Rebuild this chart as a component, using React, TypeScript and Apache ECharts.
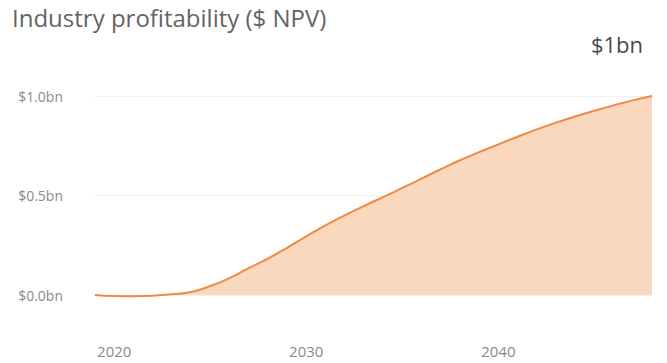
import React, { useEffect, useRef } from "react";
import * as echarts from "echarts";

// Years on the horizontal axis
const years: string[] = [
  "2019", "2020", "2021", "2022", "2023", "2024", "2025", "2026", "2027", "2028",
  "2029", "2030", "2031", "2032", "2033", "2034", "2035", "2036", "2037", "2038",
  "2039", "2040", "2041", "2042", "2043", "2044", "2045", "2046", "2047", "2048",
];

// Cumulative industry profitability, $bn NPV
const profitability: number[] = [
  0.0, -0.005, -0.006, -0.004, 0.004, 0.015, 0.045, 0.085, 0.135, 0.183,
  0.237, 0.295, 0.35, 0.4, 0.447, 0.492, 0.538, 0.585, 0.632, 0.677,
  0.718, 0.757, 0.795, 0.832, 0.866, 0.897, 0.926, 0.953, 0.978, 1.0,
];

const yearLabels: string[] = ["2020", "2030", "2040"];
const headline = "$1bn";
const chartTitle = "Industry profitability ($ NPV)";

export default function App() {
  const ref = useRef<HTMLDivElement>(null);

  useEffect(() => {
    if (!ref.current) return;
    const chart = echarts.init(ref.current, undefined, { renderer: "svg" });
    chart.setOption({
      animation: false,
      backgroundColor: "#ffffff",
      textStyle: { fontFamily: "Open Sans" },
      title: [
        {
          text: chartTitle,
          left: 12,
          top: 5,
          padding: 0,
          textStyle: {
            fontFamily: "Open Sans",
            fontSize: 24,
            fontWeight: "normal",
            color: "#646464",
          },
        },
        {
          text: headline,
          right: 24,
          top: 33,
          padding: 0,
          textStyle: {
            fontFamily: "Open Sans",
            fontSize: 22,
            fontWeight: "normal",
            color: "#4a4a4a",
          },
        },
      ],
      grid: { left: 95, right: 15, top: 96, bottom: 68 },
      xAxis: {
        type: "category",
        data: years,
        boundaryGap: false,
        axisLine: { show: false },
        axisTick: { show: false },
        splitLine: { show: false },
        axisLabel: {
          interval: 0,
          margin: 48,
          color: "#8a8a8a",
          fontSize: 15,
          fontFamily: "Open Sans",
          formatter: (v: string) => (yearLabels.includes(v) ? v : ""),
        },
      },
      yAxis: {
        type: "value",
        min: 0,
        max: 1,
        interval: 0.5,
        axisLine: { show: false },
        axisTick: { show: false },
        splitLine: { lineStyle: { color: "#f1f1f1", width: 1 } },
        axisLabel: {
          margin: 32,
          color: "#8a8a8a",
          fontSize: 14,
          fontFamily: "Open Sans",
          formatter: (v: number) => `$${v.toFixed(1)}bn`,
        },
      },
      series: [
        {
          type: "line",
          data: profitability,
          smooth: true,
          showSymbol: false,
          clip: false,
          lineStyle: { color: "#ef8a42", width: 2 },
          areaStyle: { color: "#f9d8be", opacity: 1 },
        },
      ],
    });
    return () => chart.dispose();
  }, []);

  return (
    <div
      ref={ref}
      style={{ position: "absolute", left: 0, top: 0, width: 667, height: 363 }}
    />
  );
}
